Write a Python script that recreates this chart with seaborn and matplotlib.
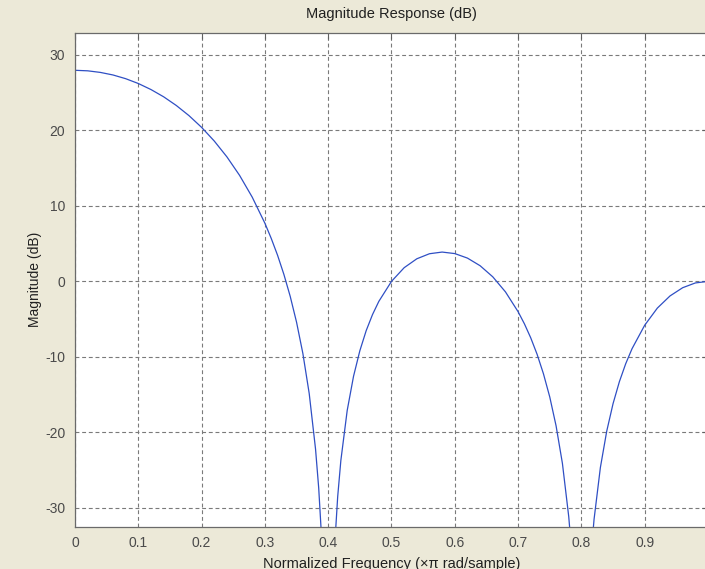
import numpy as np
import pandas as pd
import seaborn as sns
import matplotlib.pyplot as plt

# Valores (frequência normalizada x magnitude em dB)
# -60 nos nulos = ponto fora da área visível (curva sai pela base do gráfico)
freq = [0.000, 0.020, 0.040, 0.060, 0.080, 0.100, 0.120, 0.140, 0.160, 0.180,
        0.200, 0.220, 0.240, 0.260, 0.280, 0.300, 0.310, 0.320, 0.330, 0.340,
        0.350, 0.360, 0.370, 0.380, 0.385, 0.390, 0.400, 0.410, 0.415, 0.420,
        0.430, 0.440, 0.450, 0.460, 0.470, 0.480, 0.500, 0.520, 0.540, 0.560,
        0.580, 0.600, 0.620, 0.640, 0.660, 0.680, 0.700, 0.710, 0.720, 0.730,
        0.740, 0.750, 0.760, 0.770, 0.780, 0.785, 0.800, 0.815, 0.820, 0.830,
        0.840, 0.850, 0.860, 0.870, 0.880, 0.900, 0.920, 0.940, 0.960, 0.980,
        1.000]
mag_db = [27.96, 27.89, 27.68, 27.34, 26.85, 26.21, 25.41, 24.45, 23.30, 21.96,
          20.40, 18.59, 16.49, 14.04, 11.15, 7.70, 5.69, 3.46, 0.92, -1.99,
          -5.41, -9.56, -14.86, -22.22, -27.38, -34.60, -60.0, -35.35, -28.51, -23.72,
          -17.11, -12.58, -9.19, -6.53, -4.40, -2.65, 0.00, 1.81, 2.99, 3.66,
          3.88, 3.68, 3.08, 2.07, 0.60, -1.39, -4.02, -5.63, -7.49, -9.66,
          -12.23, -15.31, -19.14, -24.11, -31.17, -36.18, -60.0, -36.45, -31.52, -24.65,
          -19.85, -16.20, -13.29, -10.91, -8.92, -5.81, -3.54, -1.93, -0.84, -0.21,
          0.00]

x_ticks = [0, 0.1, 0.2, 0.3, 0.4, 0.5, 0.6, 0.7, 0.8, 0.9, 1.0]
x_tick_labels = ['0', '0.1', '0.2', '0.3', '0.4', '0.5', '0.6', '0.7', '0.8', '0.9', '']
y_ticks = [-30, -20, -10, 0, 10, 20, 30]

df = pd.DataFrame({'freq': freq, 'mag': mag_db})

sns.set_theme(style='white')
plt.rcParams['font.family'] = ['Liberation Sans', 'DejaVu Sans']
plt.rcParams['axes.unicode_minus'] = False

fig = plt.figure(figsize=(7.05, 5.69), dpi=100, facecolor='#ece9d8')
# o eixo vai um pouco além da borda direita, como no original
ax = fig.add_axes([75 / 705, (569 - 526.7) / 569, 633 / 705, 493.7 / 569])
ax.set_facecolor('white')

sns.lineplot(data=df, x='freq', y='mag', ax=ax, color='#2f4fc4',
             linewidth=0.9, sort=False, errorbar=None)

ax.set_xlim(0, 1)
ax.set_ylim(-32.5, 32.9)
ax.set_xticks(x_ticks)
ax.set_xticklabels(x_tick_labels)
ax.set_yticks(y_ticks)

ax.grid(True, color='#7a7a7a', linestyle=(0, (3.5, 2.5)), linewidth=0.8)
ax.tick_params(direction='in', length=4.5, width=0.8, color='#606060',
               labelcolor='#4a4a4a', labelsize=10, top=True, right=True,
               pad=7)
for s in ax.spines.values():
    s.set_color('#6a6a6a')
    s.set_linewidth(0.9)

ax.set_title('Magnitude Response (dB)', fontsize=10.5, color='#202020', pad=11)
ax.set_xlabel('Normalized Frequency (\u00d7\u03c0 rad/sample)', fontsize=10.5,
              color='#202020', labelpad=5)
ax.set_ylabel('Magnitude (dB)', fontsize=10, color='#202020', labelpad=2)

plt.savefig('out.png', dpi=100, facecolor=fig.get_facecolor())
